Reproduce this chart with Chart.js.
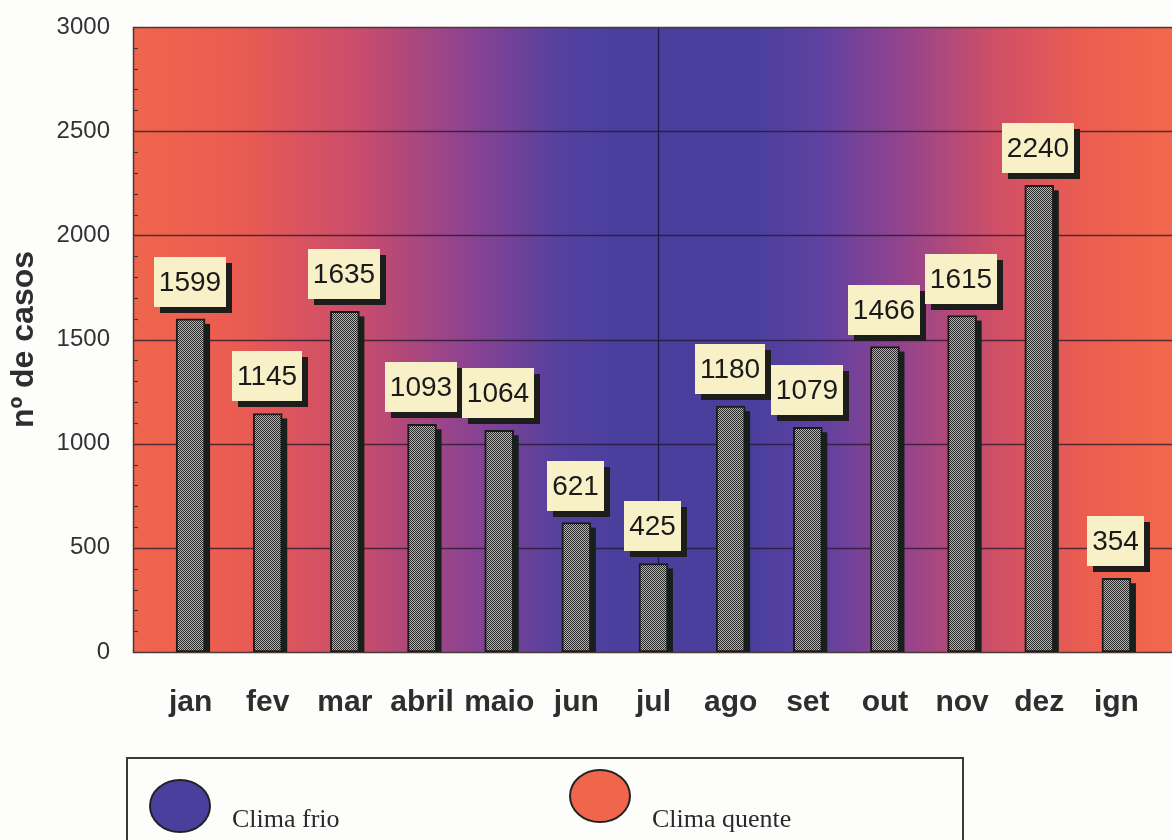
<!DOCTYPE html>
<html lang="pt">
<head>
<meta charset="utf-8">
<title>Casos por mês</title>
<script src="https://cdn.jsdelivr.net/npm/chart.js@4.4.1/dist/chart.umd.min.js"></script>
<style>
  html, body { margin: 0; padding: 0; background: #fdfdfb; }
  #wrap { width: 1172px; height: 840px; }
</style>
</head>
<body>
<div id="wrap"><canvas id="chart" width="1172" height="840"></canvas></div>
<script>
// Cases per month (ign = month not recorded)
const months = ['jan', 'fev', 'mar', 'abril', 'maio', 'jun', 'jul', 'ago', 'set', 'out', 'nov', 'dez', 'ign'];
const cases = [1599, 1145, 1635, 1093, 1064, 621, 425, 1180, 1079, 1466, 1615, 2240, 354];
const yTitle = 'nº de casos';
const yMax = 3000;
const yStep = 500;
const yMinorStep = 100;
const legendLabels = ['Clima frio', 'Clima quente'];

const SANS = '"Liberation Sans", Arial, Helvetica, sans-serif';
const SERIF = '"Liberation Serif", "Times New Roman", serif';
const COLD = '#4b3f9e';
const WARM = '#f0664c';

// fine checker fill for the bars
function checkerPattern() {
  const c = document.createElement('canvas');
  c.width = 2; c.height = 2;
  const g = c.getContext('2d');
  g.fillStyle = '#b4b4b4'; g.fillRect(0, 0, 2, 2);
  g.fillStyle = '#282828'; g.fillRect(0, 0, 1, 1); g.fillRect(1, 1, 1, 1);
  return g.createPattern(c, 'repeat');
}

// warm -> cold -> warm backdrop, grid lines and axis frame
const backdrop = {
  id: 'backdrop',
  beforeDraw(chart) {
    const { ctx, chartArea, scales: { y } } = chart;
    const left = y.right - 19;
    const right = chart.width;
    const top = chartArea.top, bottom = chartArea.bottom;
    ctx.save();
    const g = ctx.createLinearGradient(left, 0, right, 0);
    g.addColorStop(0.00, '#f0654c');
    g.addColorStop(0.10, '#ea5c52');
    g.addColorStop(0.22, '#c84c6c');
    g.addColorStop(0.32, '#8e4390');
    g.addColorStop(0.41, '#55409f');
    g.addColorStop(0.46, COLD);
    g.addColorStop(0.60, COLD);
    g.addColorStop(0.66, '#5e41a0');
    g.addColorStop(0.74, '#93438e');
    g.addColorStop(0.83, '#cf4f66');
    g.addColorStop(0.92, '#ec5e50');
    g.addColorStop(1.00, '#f2684c');
    ctx.fillStyle = g;
    ctx.fillRect(left, top, right - left, bottom - top);

    // major grid lines
    ctx.strokeStyle = 'rgba(35, 22, 40, 0.75)';
    ctx.lineWidth = 1.3;
    for (let v = yStep; v < yMax; v += yStep) {
      const py = Math.round(y.getPixelForValue(v)) + 0.5;
      ctx.beginPath(); ctx.moveTo(left, py); ctx.lineTo(right, py); ctx.stroke();
    }
    // mid-year divider
    const mid = Math.round((left + right) / 2) + 5.5;
    ctx.strokeStyle = 'rgba(20, 20, 60, 0.85)';
    ctx.lineWidth = 1.2;
    ctx.beginPath(); ctx.moveTo(mid, top); ctx.lineTo(mid, bottom); ctx.stroke();

    // frame: top edge, left axis, base line
    ctx.strokeStyle = '#4a3a34';
    ctx.lineWidth = 1.5;
    ctx.beginPath();
    ctx.moveTo(right, top + 0.5); ctx.lineTo(left + 0.5, top + 0.5);
    ctx.lineTo(left + 0.5, bottom + 0.5); ctx.lineTo(right, bottom + 0.5);
    ctx.stroke();

    // minor ticks along the left axis
    ctx.strokeStyle = '#4a3430';
    ctx.lineWidth = 1.2;
    for (let v = 0; v <= yMax; v += yMinorStep) {
      if (v % yStep === 0) continue;
      const py = Math.round(y.getPixelForValue(v)) + 0.5;
      ctx.beginPath(); ctx.moveTo(left, py); ctx.lineTo(left + 5, py); ctx.stroke();
    }
    ctx.restore();
  }
};

// dark drop shadow behind each bar
const barShadow = {
  id: 'barShadow',
  beforeDatasetsDraw(chart) {
    const { ctx } = chart;
    ctx.save();
    ctx.fillStyle = '#17201b';
    chart.getDatasetMeta(0).data.forEach(bar => {
      const { x, y, base, width } = bar.getProps(['x', 'y', 'base', 'width'], true);
      ctx.fillRect(x - width / 2 + 5, y + 5, width, base - y - 5);
    });
    ctx.restore();
  }
};

// value tags above the bars
const valueTags = {
  id: 'valueTags',
  afterDatasetsDraw(chart) {
    const { ctx } = chart;
    const values = chart.data.datasets[0].data;
    ctx.save();
    ctx.font = '28px ' + SANS;
    ctx.textAlign = 'center';
    ctx.textBaseline = 'middle';
    chart.getDatasetMeta(0).data.forEach((bar, i) => {
      const { x, y } = bar.getProps(['x', 'y'], true);
      const txt = String(values[i]);
      const bw = Math.round(ctx.measureText(txt).width + 10);
      const bh = 50;
      const bx = Math.round(x - bw / 2) - 1;
      const by = Math.round(y - 12 - bh);
      ctx.fillStyle = '#1d1d1b';
      ctx.fillRect(bx + 6, by + 6, bw, bh);
      ctx.fillStyle = '#f8f1c8';
      ctx.fillRect(bx, by, bw, bh);
      ctx.fillStyle = '#1a1a1a';
      ctx.fillText(txt, bx + bw / 2, by + bh / 2 + 1);
    });
    ctx.restore();
  }
};

// legend for the background shading
const climateLegend = {
  id: 'climateLegend',
  afterDraw(chart) {
    const { ctx } = chart;
    ctx.save();
    ctx.strokeStyle = '#3a3a3a';
    ctx.lineWidth = 2;
    ctx.strokeRect(127, 758, 836, 120);
    const items = [
      { label: legendLabels[0], color: COLD, cx: 180, cy: 806, tx: 232 },
      { label: legendLabels[1], color: WARM, cx: 600, cy: 796, tx: 652 }
    ];
    items.forEach(it => {
      ctx.beginPath();
      ctx.ellipse(it.cx, it.cy, 30, 26, 0, 0, Math.PI * 2);
      ctx.fillStyle = it.color;
      ctx.fill();
      ctx.lineWidth = 2;
      ctx.strokeStyle = '#222';
      ctx.stroke();
      ctx.fillStyle = '#2a2a2a';
      ctx.font = '26px ' + SERIF;
      ctx.textAlign = 'left';
      ctx.textBaseline = 'alphabetic';
      ctx.fillText(it.label, it.tx, 827);
    });
    ctx.restore();
  }
};

new Chart(document.getElementById('chart'), {
  type: 'bar',
  data: {
    labels: months,
    datasets: [{
      data: cases,
      backgroundColor: checkerPattern(),
      borderColor: '#1c1c1c',
      borderWidth: 2,
      borderSkipped: false,
      barThickness: 29
    }]
  },
  plugins: [backdrop, barShadow, valueTags, climateLegend],
  options: {
    responsive: false,
    devicePixelRatio: 1,
    animation: false,
    layout: { padding: { top: 27, right: 17, left: 0, bottom: 0 } },
    plugins: { legend: { display: false }, tooltip: { enabled: false } },
    scales: {
      x: {
        grid: { display: false, drawTicks: true, tickLength: 30 },
        border: { display: false },
        ticks: {
          padding: 3,
          color: '#2e2e2e',
          font: { family: SANS, size: 30, weight: 'bold' },
          maxRotation: 0,
          autoSkip: false
        },
        afterFit(scale) { scale.height = 188; }
      },
      y: {
        min: 0,
        max: yMax,
        grid: { display: false, drawTicks: true, tickLength: 38 },
        border: { display: false },
        ticks: {
          stepSize: yStep,
          padding: 4,
          color: '#333',
          font: { family: SANS, size: 24 },
          callback: v => String(v)
        },
        title: {
          display: true,
          text: yTitle,
          color: '#2e2e2e',
          padding: { top: 5, bottom: 0 },
          font: { family: SANS, size: 32, weight: 'bold' }
        },
        afterFit(scale) { scale.width = 152; }
      }
    }
  }
});
</script>
</body>
</html>
